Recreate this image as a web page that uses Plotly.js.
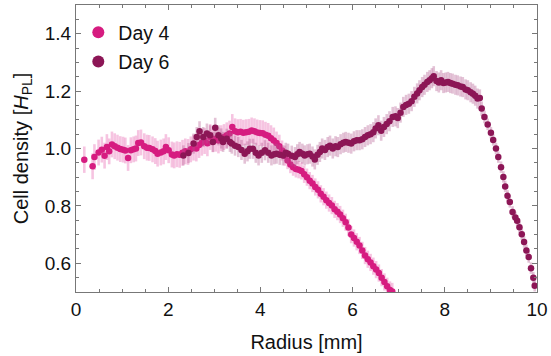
<!DOCTYPE html>
<html>
<head>
<meta charset="utf-8">
<script src="https://cdn.plot.ly/plotly-3.0.1.min.js"></script>
<style>html,body{margin:0;padding:0;background:#fff}#chart{width:551px;height:356px}</style>
</head>
<body>
<div id="chart"></div>
<script>
// Day 4
const radius4 = [0.18,0.36,0.40,0.49,0.56,0.62,0.67,0.72,0.78,0.84,0.90,0.96,1.02,1.07,1.13,1.19,1.25,1.30,1.35,1.41,1.48,1.54,1.59,1.66,1.72,1.77,1.84,1.90,1.95,2.01,2.08,2.13,2.19,2.25,2.31,2.37,2.43,2.49,2.55,2.61,2.67,2.73,2.79,2.85,2.91,2.97,3.03,3.09,3.15,3.21,3.27,3.33,3.39,3.45,3.51,3.57,3.63,3.69,3.75,3.81,3.87,3.93,3.99,4.05,4.11,4.17,4.23,4.29,4.35,4.41,4.47,4.53,4.59,4.65,4.71,4.77,4.83,4.89,4.95,5.01,5.07,5.13,5.19,5.25,5.31,5.37,5.43,5.49,5.55,5.61,5.67,5.73,5.79,5.85,5.91,5.97,6.03,6.09,6.15,6.21,6.27,6.33,6.39,6.45,6.51,6.57,6.63,6.69,6.75,6.81,6.86];
const density4 = [0.961,0.938,0.970,0.986,0.996,0.975,1.005,0.990,1.014,1.008,1.003,0.998,0.996,0.993,0.967,0.994,0.997,1.000,1.019,1.021,1.008,1.003,1.002,0.997,0.991,0.982,0.986,0.990,1.005,0.994,0.979,0.976,0.980,0.978,0.985,0.990,0.988,0.997,1.003,1.000,1.012,1.020,1.026,1.018,1.040,1.032,1.034,1.028,1.036,1.040,1.046,1.052,1.075,1.060,1.057,1.058,1.055,1.057,1.058,1.063,1.060,1.056,1.054,1.053,1.048,1.044,1.036,1.028,1.019,1.008,0.993,0.975,0.958,0.944,0.935,0.929,0.926,0.922,0.910,0.900,0.888,0.878,0.866,0.856,0.842,0.832,0.820,0.810,0.801,0.788,0.780,0.770,0.757,0.743,0.725,0.700,0.688,0.675,0.662,0.645,0.627,0.614,0.603,0.590,0.578,0.566,0.550,0.535,0.520,0.507,0.502];
const error4 = [0.046,0.045,0.045,0.045,0.045,0.045,0.045,0.045,0.045,0.045,0.045,0.045,0.045,0.045,0.045,0.045,0.045,0.045,0.045,0.045,0.045,0.045,0.045,0.045,0.045,0.045,0.045,0.045,0.045,0.045,0.045,0.045,0.045,0.045,0.045,0.045,0.045,0.045,0.045,0.045,0.045,0.045,0.045,0.045,0.045,0.045,0.045,0.045,0.045,0.045,0.045,0.045,0.045,0.045,0.045,0.045,0.045,0.045,0.045,0.045,0.045,0.045,0.045,0.045,0.045,0.045,0.045,0.045,0.04,0.04,0.035,0.035,0.03,0.03,0.03,0.03,0.03,0.03,0.03,0.03,0.03,0.03,0.03,0.03,0.03,0.03,0.03,0.03,0.03,0.03,0.03,0.03,0.03,0.03,0.03,0.03,0.03,0.03,0.03,0.03,0.03,0.03,0.03,0.03,0.03,0.03,0.03,0.03,0.03,0.03,0.03];
// Day 6
const radius6 = [2.33,2.44,2.55,2.62,2.68,2.76,2.84,2.91,2.97,3.02,3.09,3.15,3.19,3.27,3.34,3.38,3.45,3.52,3.59,3.66,3.72,3.77,3.84,3.90,3.96,4.03,4.10,4.17,4.24,4.30,4.35,4.42,4.49,4.55,4.60,4.68,4.75,4.80,4.85,4.91,4.96,5.02,5.07,5.13,5.18,5.24,5.29,5.34,5.40,5.46,5.51,5.57,5.63,5.68,5.74,5.80,5.85,5.91,5.97,6.03,6.09,6.15,6.21,6.27,6.33,6.39,6.45,6.50,6.56,6.62,6.68,6.74,6.80,6.87,6.93,6.98,7.04,7.10,7.16,7.22,7.28,7.34,7.40,7.45,7.51,7.56,7.62,7.67,7.72,7.76,7.82,7.87,7.92,7.97,8.02,8.07,8.12,8.17,8.23,8.28,8.34,8.39,8.45,8.50,8.56,8.61,8.66,8.71,8.76,8.80,8.86,8.93,9.00,9.05,9.11,9.16,9.22,9.27,9.31,9.36,9.41,9.47,9.53,9.57,9.62,9.67,9.72,9.77,9.82,9.87,9.92,9.95];
const density6 = [0.976,0.984,1.017,1.040,1.060,1.040,1.052,1.046,1.023,1.072,1.046,1.035,1.023,1.034,1.023,1.017,1.010,1.005,0.995,0.982,0.990,0.999,0.999,0.985,0.976,0.985,0.994,0.985,0.976,0.980,0.982,0.978,0.976,0.985,0.982,0.975,0.970,0.980,0.988,0.982,0.976,0.980,0.982,0.972,0.962,0.978,0.988,1.000,0.995,1.005,1.010,1.000,1.008,1.005,1.015,1.020,1.023,1.020,1.017,1.025,1.029,1.029,1.032,1.040,1.046,1.050,1.057,1.070,1.081,1.062,1.075,1.085,1.095,1.110,1.112,1.106,1.125,1.145,1.152,1.156,1.165,1.180,1.192,1.203,1.214,1.222,1.232,1.238,1.245,1.252,1.235,1.230,1.238,1.228,1.230,1.232,1.228,1.226,1.222,1.220,1.216,1.214,1.206,1.203,1.196,1.191,1.184,1.174,1.176,1.139,1.110,1.084,1.055,1.030,1.000,0.970,0.935,0.901,0.868,0.835,0.814,0.779,0.760,0.748,0.726,0.701,0.674,0.645,0.622,0.583,0.550,0.522];
const error6 = [0.035,0.035,0.035,0.035,0.035,0.035,0.035,0.035,0.035,0.035,0.035,0.035,0.035,0.035,0.035,0.035,0.035,0.035,0.035,0.035,0.035,0.035,0.035,0.035,0.035,0.035,0.035,0.035,0.035,0.035,0.035,0.035,0.035,0.035,0.035,0.035,0.035,0.035,0.035,0.035,0.035,0.035,0.035,0.035,0.035,0.035,0.035,0.035,0.035,0.035,0.035,0.035,0.035,0.035,0.035,0.035,0.035,0.035,0.035,0.035,0.035,0.035,0.035,0.035,0.035,0.035,0.035,0.035,0.035,0.035,0.035,0.035,0.035,0.035,0.035,0.035,0.035,0.035,0.035,0.035,0.035,0.035,0.035,0.035,0.035,0.035,0.035,0.035,0.035,0.035,0.035,0.035,0.035,0.035,0.035,0.035,0.035,0.035,0.035,0.035,0.035,0.035,0.035,0.035,0.035,0.035,0.035,0.035,0.03,0.025,0.022,0.02,0.02,0.02,0.02,0.02,0.02,0.02,0.02,0.02,0.02,0.02,0.02,0.02,0.02,0.02,0.02,0.02,0.02,0.02,0.02,0.02];
const seriesNames = ["Day 4", "Day 6"];

const font = "Liberation Sans, Arial, Helvetica, sans-serif";
const traces = [
  {
    x: radius4, y: density4, name: seriesNames[0], legendgroup: "g4", type: "scatter", mode: "markers",
    marker: {color: "#d61c80", size: 6.5},
    error_y: {type: "data", array: error4, visible: true, color: "rgba(234,125,188,0.45)", thickness: 2.6, width: 0},
    cliponaxis: true
  },
  {
    x: radius6, y: density6, name: seriesNames[1], legendgroup: "g6", type: "scatter", mode: "markers",
    marker: {color: "#8c1656", size: 6.5},
    error_y: {type: "data", array: error6, visible: true, color: "rgba(178,85,140,0.36)", thickness: 2.6, width: 0},
    cliponaxis: true
  }
];

const axisCommon = {
  showline: true, linecolor: "#777", linewidth: 1, mirror: "allticks",
  ticks: "inside", ticklen: 5, tickcolor: "#777", tickwidth: 1,
  showgrid: false, zeroline: false,
  tickfont: {family: font, size: 19, color: "#111"}
};

const layout = {
  width: 551, height: 356,
  margin: {l: 76, r: 13.5, t: 4.6, b: 64.3},
  paper_bgcolor: "#fff", plot_bgcolor: "#fff",
  showlegend: true,
  legend: {x: 0.005, y: 0.972, xanchor: "left", yanchor: "top", bgcolor: "rgba(0,0,0,0)",
           font: {family: font, size: 19.5, color: "#111"}, itemsizing: "constant",
           traceorder: "grouped", tracegroupgap: 1},
  xaxis: Object.assign({}, axisCommon, {
    range: [0, 10], tickvals: [0, 2, 4, 6, 8, 10], ticktext: ["0", "2", "4", "6", "8", "10"],
    minor: {dtick: 0.5, tick0: 0, ticks: "inside", ticklen: 3, tickcolor: "#777"},
    title: {text: "Radius [mm]", font: {family: font, size: 20, color: "#111"}, standoff: 16}
  }),
  yaxis: Object.assign({}, axisCommon, {
    range: [0.5, 1.5], tickvals: [0.6, 0.8, 1.0, 1.2, 1.4], ticktext: ["0.6", "0.8", "1.0", "1.2", "1.4"],
    minor: {dtick: 0.05, tick0: 0.5, ticks: "inside", ticklen: 3, tickcolor: "#777"},
    title: {text: "Cell density [<i>H</i><sub>PL</sub>]", font: {family: font, size: 20, color: "#111"}, standoff: 10}
  })
};

Plotly.newPlot("chart", traces, layout, {displayModeBar: false, staticPlot: true});
</script>
</body>
</html>
